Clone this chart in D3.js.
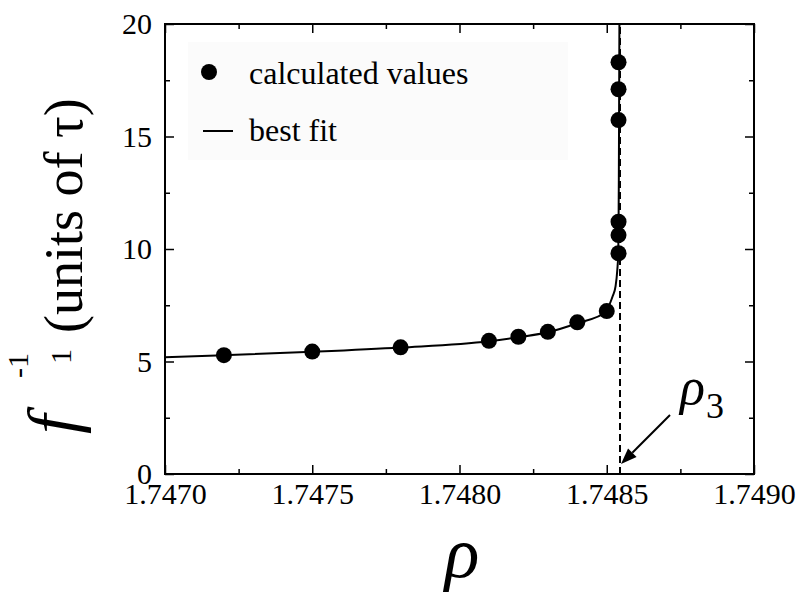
<!DOCTYPE html>
<html>
<head>
<meta charset="utf-8">
<script src="https://cdn.jsdelivr.net/npm/d3@7"></script>
<style>
  html, body { margin: 0; padding: 0; background: #fff; }
  svg { display: block; }
  svg text { font-family: "Liberation Serif", "Times New Roman", Times, "DejaVu Serif", serif; fill: #000; }
</style>
</head>
<body>
<svg id="chart" width="805" height="594"></svg>
<script>
// ---- data ----
const dataRho = [1.7472, 1.7475, 1.7478, 1.7481, 1.7482, 1.7483, 1.7484, 1.7485,
                 1.74854, 1.74854, 1.74854, 1.74854, 1.74854, 1.74854];
const dataVal = [5.28, 5.44, 5.63, 5.92, 6.10, 6.32, 6.74, 7.24,
                 9.81, 10.62, 11.21, 15.73, 17.10, 18.30];

const fitRho = [1.7470, 1.7472, 1.7475, 1.7478, 1.7481, 1.7482, 1.7483, 1.7484, 1.7485,
                1.74851, 1.74852, 1.74853, 1.748536, 1.748539, 1.748540, 1.748541, 1.748542, 1.748543];
const fitVal = [5.19, 5.28, 5.43, 5.62, 5.90, 6.08, 6.30, 6.70, 7.22,
                7.55, 7.90, 8.35, 9.10, 9.80, 10.8, 13.0, 16.5, 20.0];

const rho3 = 1.748545;

const xMajor = [1.7470, 1.7475, 1.7480, 1.7485, 1.7490];
const xMinor = [1.74725, 1.74775, 1.74825, 1.74875];
const yMajor = [0, 5, 10, 15, 20];
const yMinor = [2.5, 7.5, 12.5, 17.5];

const legendLabels = ["calculated values", "best fit"];

// ---- layout ----
const L = 165, R = 754, T = 24, B = 474;
const svg = d3.select("#chart");
const SERIF = '"Liberation Serif", "Times New Roman", Times, "DejaVu Serif", serif';

const x = d3.scaleLinear().domain([1.7470, 1.7490]).range([L, R]);
const y = d3.scaleLinear().domain([0, 20]).range([B, T]);

// legend background (barely visible)
svg.append("rect").attr("x", 188).attr("y", 42).attr("width", 380).attr("height", 118)
  .attr("fill", "#fbfbfb");

// dashed asymptote
svg.append("line")
  .attr("x1", x(rho3)).attr("x2", x(rho3))
  .attr("y1", y(0)).attr("y2", y(20))
  .attr("stroke", "#000").attr("stroke-width", 2).attr("stroke-dasharray", "7,4");

// fit curve
const fitPts = fitRho.map((r, i) => [r, fitVal[i]]);
svg.append("path")
  .datum(fitPts)
  .attr("fill", "none").attr("stroke", "#000").attr("stroke-width", 2)
  .attr("d", d3.line().x(d => x(d[0])).y(d => y(d[1])).curve(d3.curveMonotoneX));

// data points
svg.selectAll("circle.pt")
  .data(dataRho.map((r, i) => [r, dataVal[i]]))
  .join("circle").attr("class", "pt")
  .attr("cx", d => x(d[0])).attr("cy", d => y(d[1])).attr("r", 8).attr("fill", "#000");

// ---- axes ----
const fontTick = 30;
function styleAxis(g) {
  g.select(".domain").remove();
  g.selectAll("line").attr("stroke", "#000").attr("stroke-width", 1.5);
  g.selectAll("text").attr("font-size", fontTick).style("font-family", SERIF);
}
svg.append("g").attr("transform", `translate(0,${B})`)
  .call(d3.axisBottom(x).tickValues(xMajor).tickSize(-9).tickPadding(9).tickFormat(d3.format(".4f")))
  .call(styleAxis);
svg.append("g").attr("transform", `translate(0,${B})`)
  .call(d3.axisBottom(x).tickValues(xMinor).tickSize(-5).tickFormat(""))
  .call(styleAxis);
svg.append("g").attr("transform", `translate(0,${T})`)
  .call(d3.axisTop(x).tickValues(xMajor).tickSize(-9).tickFormat(""))
  .call(styleAxis);
svg.append("g").attr("transform", `translate(0,${T})`)
  .call(d3.axisTop(x).tickValues(xMinor).tickSize(-5).tickFormat(""))
  .call(styleAxis);
svg.append("g").attr("transform", `translate(${L},0)`)
  .call(d3.axisLeft(y).tickValues(yMajor).tickSize(-9).tickPadding(13).tickFormat(d3.format("d")))
  .call(styleAxis);
svg.append("g").attr("transform", `translate(${L},0)`)
  .call(d3.axisLeft(y).tickValues(yMinor).tickSize(-5).tickFormat(""))
  .call(styleAxis);
svg.append("g").attr("transform", `translate(${R},0)`)
  .call(d3.axisRight(y).tickValues(yMajor).tickSize(-9).tickFormat(""))
  .call(styleAxis);
svg.append("g").attr("transform", `translate(${R},0)`)
  .call(d3.axisRight(y).tickValues(yMinor).tickSize(-5).tickFormat(""))
  .call(styleAxis);

// frame
svg.append("rect").attr("x", L).attr("y", T).attr("width", R - L).attr("height", B - T)
  .attr("fill", "none").attr("stroke", "#000").attr("stroke-width", 2);

// ---- legend ----
svg.append("circle").attr("cx", 209).attr("cy", 72).attr("r", 8).attr("fill", "#000");
svg.append("text").attr("x", 249).attr("y", 84).attr("font-size", 32).style("font-family", SERIF).text(legendLabels[0]);
svg.append("line").attr("x1", 203).attr("x2", 233).attr("y1", 131).attr("y2", 131)
  .attr("stroke", "#000").attr("stroke-width", 2);
svg.append("text").attr("x", 249).attr("y", 141).attr("font-size", 32).style("font-family", SERIF).text(legendLabels[1]);

// ---- rho_3 annotation ----
const tipX = x(rho3) + 1, tipY = 464;
const tailX = 670, tailY = 415;
const ang = Math.atan2(tipY - tailY, tipX - tailX);
const hl = 16, hw = 6;
const baseX = tipX - hl * Math.cos(ang), baseY = tipY - hl * Math.sin(ang);
svg.append("line").attr("x1", tailX).attr("y1", tailY).attr("x2", baseX).attr("y2", baseY)
  .attr("stroke", "#000").attr("stroke-width", 2);
svg.append("polygon")
  .attr("points", [
    [tipX, tipY],
    [baseX + hw * Math.sin(ang), baseY - hw * Math.cos(ang)],
    [baseX - hw * Math.sin(ang), baseY + hw * Math.cos(ang)]
  ].map(p => p.join(",")).join(" "))
  .attr("fill", "#000");
svg.append("text").attr("x", 680).attr("y", 404).attr("font-size", 52).attr("font-style", "italic").style("font-family", SERIF).text("ρ");
svg.append("text").attr("x", 706).attr("y", 418).attr("font-size", 36).style("font-family", SERIF).text("3");

// ---- axis titles ----
svg.append("text").attr("x", 462).attr("y", 577).attr("text-anchor", "middle")
  .attr("font-size", 72).attr("font-style", "italic").style("font-family", SERIF).text("ρ");

const yt = svg.append("g").attr("transform", "translate(82,474) rotate(-90)");
yt.append("text").attr("x", 40).attr("y", -6).attr("font-size", 70).attr("font-style", "italic").style("font-family", SERIF).text("f");
yt.append("text").attr("x", 110).attr("y", -11).attr("font-size", 30).style("font-family", SERIF).text("1");
yt.append("text").attr("x", 96).attr("y", -54).attr("font-size", 30).style("font-family", SERIF).text("-1");
yt.append("text").attr("x", 141).attr("y", 0).attr("font-size", 54).style("font-family", SERIF).text("(units of τ)");
</script>
</body>
</html>
